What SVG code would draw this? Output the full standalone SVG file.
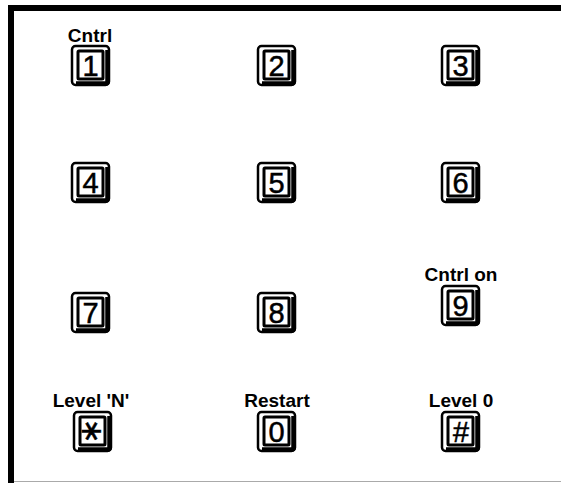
<svg xmlns="http://www.w3.org/2000/svg" width="561" height="483" viewBox="0 0 561 483">
<defs>
<style>
.lbl{font-family:"Liberation Sans",Arial,sans-serif;font-weight:bold;font-size:19px;fill:#000;text-anchor:middle}
.dig{font-family:"Liberation Sans",Arial,sans-serif;font-size:29px;fill:#000;stroke:#000;stroke-width:0.5;text-anchor:middle}
.ast{font-family:"DejaVu Sans",sans-serif;font-size:30px;fill:#000;stroke:#000;stroke-width:0.5;text-anchor:middle;dominant-baseline:central}
.outer{fill:#fff;stroke:#000;stroke-width:2.5}
.inner{fill:#fff;stroke:#000;stroke-width:3}
.shadow{fill:none;stroke:#000;stroke-width:4.5;stroke-linejoin:round}
</style>
<g id="keycap">
<rect class="outer" x="0" y="0" width="37" height="39" rx="3.5"/>
<path class="shadow" d="M35.5 4 V36 Q35.5 37.5 34 37.5 H4"/>
<rect class="inner" x="6" y="5" width="25" height="28" rx="1"/>
</g>
</defs>
<rect width="561" height="483" fill="#fff"/>
<g id="frame">
<rect x="8" y="5" width="553" height="6" fill="#000"/>
<rect x="8" y="5" width="6" height="478" fill="#000"/>
<line x1="14" y1="481.5" x2="561" y2="481.5" stroke="#aaa" stroke-width="1"/>
</g>
<g id="key1"><text class="lbl" x="90" y="42">Cntrl</text><use href="#keycap" x="72" y="46"/><text class="dig" x="90.5" y="76">1</text></g>
<g id="key2"><use href="#keycap" x="258" y="46"/><text class="dig" x="276.5" y="76">2</text></g>
<g id="key3"><use href="#keycap" x="442" y="46"/><text class="dig" x="460.5" y="76">3</text></g>
<g id="key4"><use href="#keycap" x="72" y="163"/><text class="dig" x="90.5" y="193">4</text></g>
<g id="key5"><use href="#keycap" x="258" y="163"/><text class="dig" x="276.5" y="193">5</text></g>
<g id="key6"><use href="#keycap" x="442" y="163"/><text class="dig" x="460.5" y="193">6</text></g>
<g id="key7"><use href="#keycap" x="72" y="293"/><text class="dig" x="90.5" y="323">7</text></g>
<g id="key8"><use href="#keycap" x="258" y="293"/><text class="dig" x="276.5" y="323">8</text></g>
<g id="key9"><text class="lbl" x="461" y="281">Cntrl on</text><use href="#keycap" x="442" y="286"/><text class="dig" x="460.5" y="316">9</text></g>
<g id="keystar"><text class="lbl" x="91" y="407">Level 'N'</text><use href="#keycap" x="74" y="412"/><text class="ast" transform="translate(92.5 431) rotate(90)">∗</text></g>
<g id="key0"><text class="lbl" x="277" y="407">Restart</text><use href="#keycap" x="258" y="412"/><text class="dig" x="276.5" y="442">0</text></g>
<g id="keyhash"><text class="lbl" x="461" y="407">Level 0</text><use href="#keycap" x="442" y="412"/><text class="dig" x="460.5" y="442" font-style="italic">#</text></g>
</svg>
